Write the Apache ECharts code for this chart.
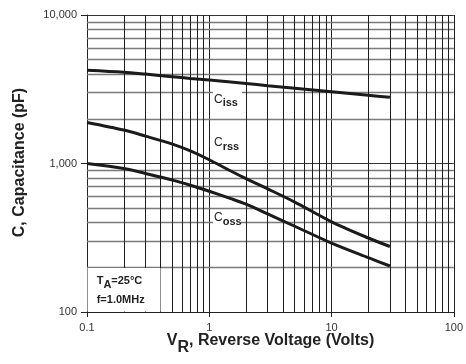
<!DOCTYPE html>
<html>
<head>
<meta charset="utf-8">
<script src="https://cdn.jsdelivr.net/npm/echarts@6/dist/echarts.min.js"></script>
<style>
html,body{margin:0;padding:0;background:#fff;}
#chart{width:466px;height:364px;}
</style>
</head>
<body>
<div id="chart"></div>
<script>
// Reverse voltage (V)
var voltage = [0.1, 0.2, 0.3, 0.5, 0.7, 1, 1.5, 2, 3, 5, 10, 20, 30];
// Capacitances (pF)
var ciss = [4250, 4120, 4000, 3840, 3740, 3650, 3540, 3460, 3340, 3210, 3040, 2880, 2790];
var crss = [1890, 1680, 1530, 1350, 1215, 1060, 890, 790, 675, 550, 405, 315, 276];
var coss = [1000, 926, 857, 773, 714, 650, 580, 532, 458, 378, 291, 232, 204];

var xTickValues = [0.1, 1, 10, 100];
var xTickLabels = ['0.1', '1', '10', '100'];
var yTickValues = [100, 1000, 10000];
var yTickLabels = ['100', '1,000', '10,000'];

// minor grid positions (log paper)
var xMinorGrid = [0.2,0.3,0.4,0.5,0.6,0.7,0.8,0.9, 2,3,4,5,6,7,8,9, 20,30,40,50,60,70,80,90];
var yMinorGrid = [200,300,400,500,600,700,800,900, 2000,3000,4000,5000,6000,7000,8000,9000];

function pairs(xs, ys){ return xs.map(function(x,i){ return [x, ys[i]]; }); }
function labelOf(values, labels){
  return function(v){
    for (var i=0;i<values.length;i++){ if (Math.abs(Math.log10(v)-Math.log10(values[i]))<1e-6) return labels[i]; }
    return '';
  };
}

var chart = echarts.init(document.getElementById('chart'), null, {renderer:'canvas'});
var curveStyle = {color:'#1b1b1b', width:3};
var fontFam = '"Liberation Sans", Arial, sans-serif';

var option = {
  animation:false,
  backgroundColor:'#fff',
  grid:{left:87, top:15, width:369, height:297, containLabel:false},
  xAxis:{
    type:'log', logBase:10, min:0.1, max:100,
    axisLine:{show:true, lineStyle:{color:'#222', width:1}},
    axisTick:{show:true, length:5, lineStyle:{color:'#222'}},
    axisLabel:{fontSize:11, margin:10, color:'#333', fontFamily:fontFam, formatter:labelOf(xTickValues, xTickLabels)},
    splitLine:{show:true, lineStyle:{color:'#222', width:1}},
    minorTick:{show:false}, minorSplitLine:{show:false}
  },
  yAxis:{
    type:'log', logBase:10, min:100, max:10000,
    axisLine:{show:true, lineStyle:{color:'#222', width:1}},
    axisTick:{show:true, length:6, lineStyle:{color:'#222'}},
    axisLabel:{fontSize:11, margin:10, color:'#333', fontFamily:fontFam, formatter:labelOf(yTickValues, yTickLabels)},
    splitLine:{show:true, lineStyle:{color:'#333', width:1.2}},
    minorTick:{show:false}, minorSplitLine:{show:false}
  },
  series:[
    {
      type:'line', name:'hgrid', data:[], silent:true, z:1,
      markLine:{silent:true, symbol:['none','none'], label:{show:false}, animation:false,
        lineStyle:{type:'solid', color:'#7a7a7a', width:1.3},
        emphasis:{disabled:true},
        data:yMinorGrid.map(function(v){ return {yAxis:v}; })}
    },
    {
      type:'line', name:'vgrid', data:[], silent:true, z:1,
      markLine:{silent:true, symbol:['none','none'], label:{show:false}, animation:false,
        lineStyle:{type:'solid', color:'#1e1e1e', width:1},
        emphasis:{disabled:true},
        data:xMinorGrid.map(function(v){ return {xAxis:v}; })}
    },
    {type:'line', name:'Ciss', data:pairs(voltage, ciss), smooth:0.3, showSymbol:false, lineStyle:curveStyle, z:5},
    {type:'line', name:'Crss', data:pairs(voltage, crss), smooth:0.3, showSymbol:false, lineStyle:curveStyle, z:5},
    {type:'line', name:'Coss', data:pairs(voltage, coss), smooth:0.3, showSymbol:false, lineStyle:curveStyle, z:5}
  ],
  graphic:[
    // white boxes behind labels
    {type:'rect', z:20, shape:{x:213, y:89, width:29, height:20}, style:{fill:'#fff'}},
    {type:'rect', z:20, shape:{x:213, y:135, width:28, height:18}, style:{fill:'#fff'}},
    {type:'rect', z:20, shape:{x:213, y:210, width:28, height:19}, style:{fill:'#fff'}},
    {type:'rect', z:20, shape:{x:87.5, y:268, width:73, height:43.5}, style:{fill:'#fff'}},
    // curve labels
    {type:'text', z:21, x:214, y:99.7, style:{text:'C', font:'12px '+fontFam, fill:'#222', textAlign:'left', textVerticalAlign:'middle'}},
    {type:'text', z:21, x:222.7, y:103.2, style:{text:'iss', font:'bold 11px '+fontFam, fill:'#222', textAlign:'left', textVerticalAlign:'middle'}},
    {type:'text', z:21, x:214, y:143.1, style:{text:'C', font:'12px '+fontFam, fill:'#222', textAlign:'left', textVerticalAlign:'middle'}},
    {type:'text', z:21, x:222.7, y:146.7, style:{text:'rss', font:'bold 11px '+fontFam, fill:'#222', textAlign:'left', textVerticalAlign:'middle'}},
    {type:'text', z:21, x:214, y:218, style:{text:'C', font:'12px '+fontFam, fill:'#222', textAlign:'left', textVerticalAlign:'middle'}},
    {type:'text', z:21, x:222.7, y:222.4, style:{text:'oss', font:'bold 11px '+fontFam, fill:'#222', textAlign:'left', textVerticalAlign:'middle'}},
    // conditions
    {type:'text', z:21, x:96.7, y:281, style:{text:'T', font:'bold 11px '+fontFam, fill:'#222', textAlign:'left', textVerticalAlign:'middle'}},
    {type:'text', z:21, x:103.4, y:284.5, style:{text:'A', font:'bold 11px '+fontFam, fill:'#222', textAlign:'left', textVerticalAlign:'middle'}},
    {type:'text', z:21, x:111.3, y:281, style:{text:'=25°C', font:'bold 11px '+fontFam, fill:'#222', textAlign:'left', textVerticalAlign:'middle'}},
    {type:'text', z:21, x:96.7, y:300, style:{text:'f=1.0MHz', font:'bold 11px '+fontFam, fill:'#222', textAlign:'left', textVerticalAlign:'middle'}},
    // axis titles
    {type:'text', z:21, x:166.7, y:341, style:{text:'V', font:'bold 16px '+fontFam, fill:'#222', textAlign:'left', textVerticalAlign:'middle'}},
    {type:'text', z:21, x:177.4, y:347.7, style:{text:'R', font:'bold 16px '+fontFam, fill:'#222', textAlign:'left', textVerticalAlign:'middle'}},
    {type:'text', z:21, x:189, y:341, style:{text:', Reverse Voltage (Volts)', font:'bold 16px '+fontFam, fill:'#222', textAlign:'left', textVerticalAlign:'middle'}},
    {type:'text', z:21, x:20, y:162.5, rotation:Math.PI/2, style:{text:'C, Capacitance (pF)', font:'bold 16px '+fontFam, fill:'#222', textAlign:'center', textVerticalAlign:'middle'}}
  ]
};
chart.setOption(option);
</script>
</body>
</html>
